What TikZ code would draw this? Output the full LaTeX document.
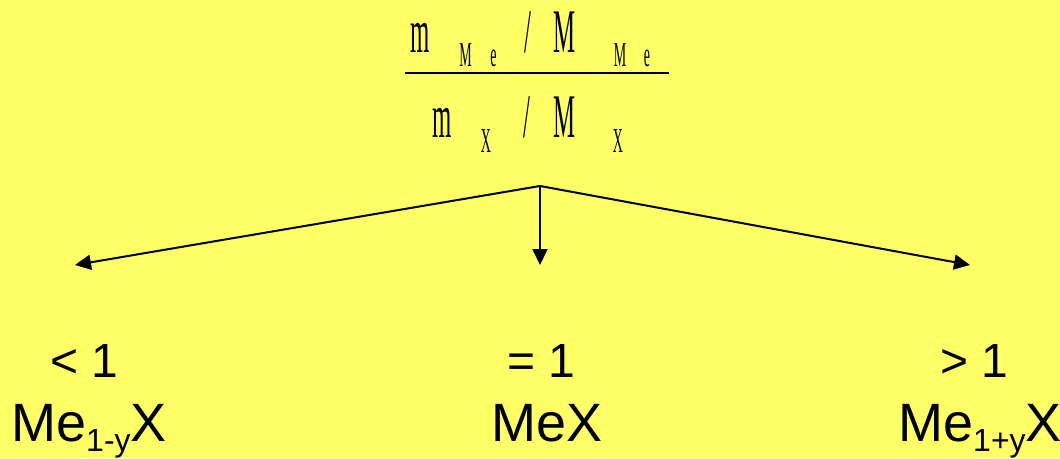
\documentclass[tikz,border=0pt]{standalone}
\usepackage{fontspec}
\setmainfont{Liberation Sans}
\newfontfamily\fracfont{Liberation Serif}
\usetikzlibrary{arrows.meta}
\definecolor{bgyellow}{RGB}{255,255,102}
\tikzset{
  big/.style={inner sep=0pt,anchor=base,font=\fracfont\fontsize{62}{62}\selectfont},
  small/.style={inner sep=0pt,anchor=base,font=\fracfont\fontsize{35}{35}\selectfont},
  rel/.style={inner sep=0pt,anchor=base west,font=\fontsize{48}{52}\selectfont},
  form/.style={inner sep=0pt,anchor=base west,font=\fontsize{54}{60}\selectfont},
  arr/.style={line width=2pt,-{Triangle[length=16pt,width=15pt]}},
}
\newcommand{\cond}[1]{\scalebox{0.4}[1]{#1}}
\newcommand{\subs}[1]{\raisebox{-10pt}{\fontsize{32}{32}\selectfont #1}}
\begin{document}
\begin{tikzpicture}[x=1pt,y=-1pt]
\fill[bgyellow] (0,0) rectangle (1060,458);
\useasboundingbox (0,0) rectangle (1060,458);
% numerator
\node[big] (nm) at (420,52) {\cond{m}};
\node[small] (nsM1) at (465.5,66) {\cond{M}};
\node[small] (nse1) at (493.5,66) {\cond{e}};
\node[big] (nsl) at (528,52) {\cond{/}};
\node[big] (nM) at (565,52) {\cond{M}};
\node[small] (nsM2) at (620,66) {\cond{M}};
\node[small] (nse2) at (647,66) {\cond{e}};
% bar
\coordinate (barL) at (405,73);
\coordinate (barR) at (669,73);
\draw[line width=2.7pt] (barL) -- (barR);
% denominator
\node[big] (dm) at (442,137) {\cond{m}};
\node[small] (dsX1) at (486,152) {\cond{X}};
\node[big] (dsl) at (527,137) {\cond{/}};
\node[big] (dM) at (565,137) {\cond{M}};
\node[small] (dsX2) at (618,152) {\cond{X}};
% arrows
\coordinate (apex) at (540,186);
\coordinate (tipL) at (75,265);
\coordinate (tipC) at (540,265);
\coordinate (tipR) at (970,265);
\draw[arr] (apex) -- (tipL);
\draw[arr] (apex) -- (tipC);
\draw[arr] (apex) -- (tipR);
% bottom labels
\node[rel] (lt) at (50,377) {< 1};
\node[rel] (eq) at (507,377) {= 1};
\node[rel] (gt) at (940,377) {> 1};
\node[form] (fl) at (11,441) {Me\subs{1-y}X};
\node[form] (fc) at (491,441) {MeX};
\node[form] (fr) at (898,441) {Me\subs{1+y}X};
\end{tikzpicture}
\end{document}
